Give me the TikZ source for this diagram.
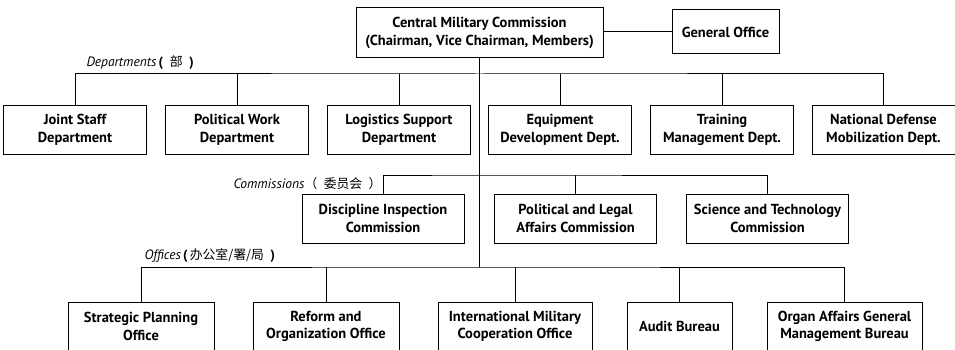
\documentclass[tikz,border=0pt]{standalone}
\usepackage{fontspec}
\setmainfont{PT Sans}
\newfontfamily\cjk{Noto Sans CJK SC}[Scale=0.95]
\usetikzlibrary{positioning}

\begin{document}
\begin{tikzpicture}[%
	x=1pt, y=-1pt,              % one unit per pixel, y running down
	every node/.style={font=\fontsize{14.5}{18}\selectfont},
	line width=1pt,
	]
	% -------------------------------------------------
	% A few box styles
	\tikzset{
		base/.style={draw, line width=1pt, align=center, inner sep=0pt},
		unit/.style={base, minimum height=48, font={\fontsize{14.5}{17.5}\selectfont\bfseries}},
		dept/.style={unit, minimum width=143},
		comm/.style={unit, minimum width=162, minimum height=49},
		offc/.style={unit, minimum height=49},
		% group labels sitting over each bus line
		grp/.style={inner sep=0pt, font={\fontsize{13.5}{16}\selectfont}},
		% -------------------------------------------------
		% Connector line style
		norm/.style={draw, line width=1pt}
	}
	\useasboundingbox (0,0) rectangle (955,350);

	\node[unit, minimum width=247, minimum height=50] (cmc) at (479.5,33)
		{Central Military Commission\\(Chairman, Vice Chairman, Members)};
	\node[unit, minimum width=107, minimum height=44] (go) at (725.5,32) {General Office};

	% departments
	\node[dept] (d1) at (75,130) {Joint Staff\\Department};
	\node[dept] (d2) at (237,130) {Political Work\\Department};
	\node[dept] (d3) at (399,130) {Logistics Support\\Department};
	\node[dept] (d4) at (560,130) {Equipment\\Development Dept.};
	\node[dept] (d5) at (722,130) {Training\\Management Dept.};
	\node[dept] (d6) at (883.5,130) {National Defense\\Mobilization Dept.};

	% commissions
	\node[comm] (c1) at (383,218.5) {Discipline Inspection\\Commission};
	\node[comm] (c2) at (575.5,218.5) {Political and Legal\\Affairs Commission};
	\node[comm] (c3) at (767.5,218.5) {Science and Technology\\Commission};

	% offices (bottom edge runs off the page)
	\node[offc, minimum width=146] (o1) at (141,326.5) {Strategic Planning\\Office};
	\node[offc, minimum width=146] (o2) at (326,326.5) {Reform and\\Organization Office};
	\node[offc, minimum width=154] (o3) at (515,326.5) {International Military\\Cooperation Office};
	\node[offc, minimum width=105] (o4) at (679.5,326.5) {Audit Bureau};
	\node[offc, minimum width=155] (o5) at (844.5,326.5) {Organ Affairs General\\Management Bureau};

	% bus lines
	\coordinate (dbus) at (479.5,74);
	\coordinate (cbus) at (479.5,175);
	\coordinate (obus) at (479.5,267);

	\node[grp, anchor=west] (dl) at (86,63)
		{\textit{Departments}\,\textbf{(}\enspace{\cjk 部}\enspace\textbf{)}};
	\node[grp, anchor=east] (cl) at (382,184)
		{\textit{Commissions}{\cjk （\enspace 委员会\enspace ）}};
	\node[grp, anchor=west] (ol) at (144,256)
		{\textit{Offices}\,\textbf{(}\,{\cjk 办公室/署/局}\enspace\textbf{)}};

	\draw[norm] (go.west) -- (go.west -| cmc.east);
	\draw[norm] (cmc.south) -- (obus);
	\draw[norm] (d1.north) |- (dbus) -| (d6.north);
	\foreach \n in {2,...,5}
		\draw[norm] (d\n.north) -- (d\n.north |- dbus);
	\draw[norm] (c1.north) |- (cbus) -| (c3.north);
	\draw[norm] (c2.north) -- (c2.north |- cbus);
	\draw[norm] (o1.north) |- (obus) -| (o5.north);
	\foreach \n in {2,...,4}
		\draw[norm] (o\n.north) -- (o\n.north |- obus);
\end{tikzpicture}
\end{document}
